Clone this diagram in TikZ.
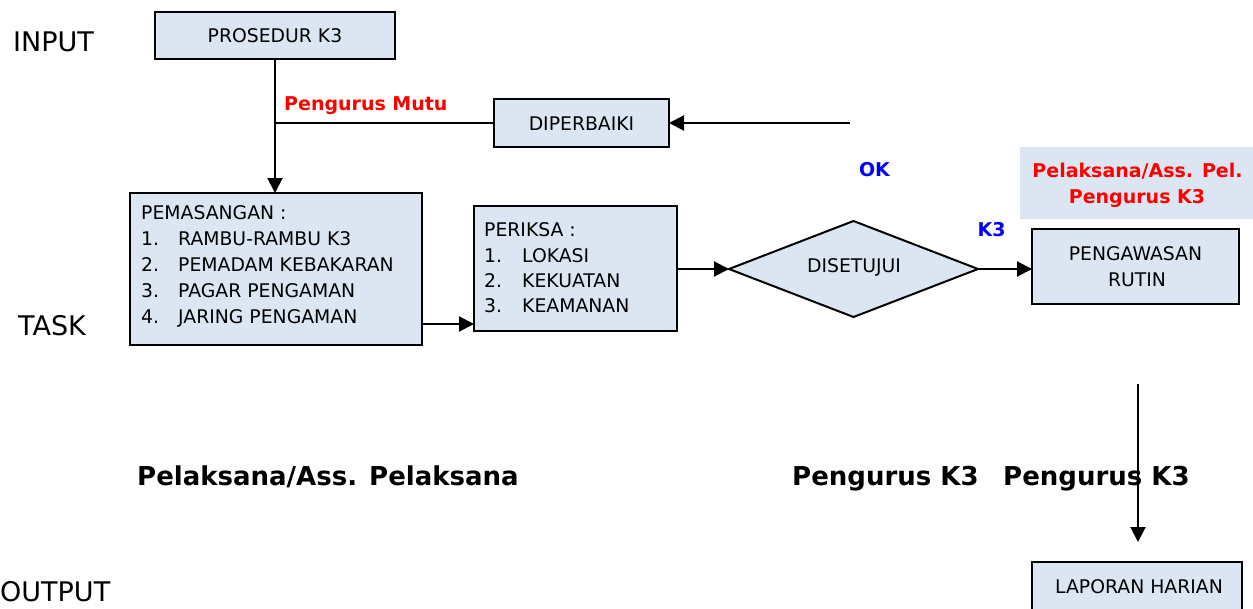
\documentclass[tikz,border=0pt]{standalone}
\usepackage{fontspec}
\setmainfont{DejaVu Sans}
\usetikzlibrary{arrows.meta,shapes.geometric}
\definecolor{boxfill}{RGB}{220,230,242}
\begin{document}
\begin{tikzpicture}[x=1pt,y=-1pt,
  box/.style={draw=black, line width=2pt, fill=boxfill, inner sep=0pt, outer sep=0pt},
  t/.style={inner sep=0pt, anchor=base west, font=\fontsize{18.8}{22}\selectfont},
  tc/.style={t, anchor=base},
  lab/.style={inner sep=0pt, anchor=base west, font=\fontsize{27}{32}\selectfont},
  redb/.style={inner sep=0pt, anchor=base, text=red, font=\fontsize{19}{23}\selectfont\bfseries},
  blueb/.style={inner sep=0pt, anchor=base, text=blue, font=\fontsize{19}{23}\selectfont\bfseries},
  big/.style={inner sep=0pt, anchor=base west, font=\fontsize{26}{31}\selectfont\bfseries},
  ln/.style={line width=2pt},
  arr/.style={line width=2pt, -{Triangle[length=15pt,width=15pt]}}]
\useasboundingbox (0,0) rectangle (1253,608);
\fill[white] (0,0) rectangle (1253,608);

% side labels
\node[lab] (input) at (13,51) {INPUT};
\node[lab] (task) at (18,335) {TASK};
\node[lab] (output) at (0,601) {OUTPUT};

% boxes
\node[box, minimum width=240pt, minimum height=47pt] (pros) at (275,35.5) {};
\node[tc] (prost) at (275,42) {PROSEDUR K3};

\node[box, minimum width=175pt, minimum height=48pt] (dip) at (581.5,123) {};
\node[tc] (dipt) at (581.5,130) {DIPERBAIKI};

\node[box, minimum width=292pt, minimum height=152pt] (pem) at (276,269) {};
\node[t] (pem0) at (141,219) {PEMASANGAN :};
\node[t] (pem1n) at (141,245.5) {1.};
\node[t] (pem1) at (178,245.5) {RAMBU-RAMBU K3};
\node[t] (pem2n) at (141,271.5) {2.};
\node[t] (pem2) at (178,271.5) {PEMADAM KEBAKARAN};
\node[t] (pem3n) at (141,297) {3.};
\node[t] (pem3) at (178,297) {PAGAR PENGAMAN};
\node[t] (pem4n) at (141,323) {4.};
\node[t] (pem4) at (178,323) {JARING PENGAMAN};

\node[box, minimum width=203pt, minimum height=125pt] (per) at (575.5,268.5) {};
\node[t] (per0) at (484,236) {PERIKSA :};
\node[t] (per1n) at (484,262) {1.};
\node[t] (per1) at (522,262) {LOKASI};
\node[t] (per2n) at (484,287) {2.};
\node[t] (per2) at (522,287) {KEKUATAN};
\node[t] (per3n) at (484,312) {3.};
\node[t] (per3) at (522,312) {KEAMANAN};

\node[box, diamond, minimum width=249pt, minimum height=96pt] (dis) at (853.5,269) {};
\node[tc] (dist) at (854,272) {DISETUJUI};

\node[fill=boxfill, inner sep=0pt, minimum width=233pt, minimum height=72pt] (redbg) at (1136.5,183) {};
\node[redb] (red1) at (1137.5,177) {Pelaksana/Ass. Pel.};
\node[redb] (red2) at (1137,203) {Pengurus K3};

\node[box, minimum width=207pt, minimum height=75pt] (peng) at (1135.5,266.5) {};
\node[tc] (peng1) at (1135.5,260) {PENGAWASAN};
\node[tc] (peng2) at (1137,286) {RUTIN};

\node[box, minimum width=210pt, minimum height=54pt] (lap) at (1137,589) {};
\node[tc] (lapt) at (1139,593) {LAPORAN HARIAN};

% labels
\node[redb, anchor=base west] (mutu) at (284,110) {Pengurus Mutu};
\node[blueb] (ok) at (874.5,176) {OK};
\node[blueb] (k3) at (991.5,236) {K3};
\node[big] (pel) at (137,485) {Pelaksana/Ass. Pelaksana};
\node[big] (pk1) at (792,485) {Pengurus K3};
\node[big] (pk2) at (1003,485) {Pengurus K3};

% connectors
\coordinate (okstart) at (850,123);
\coordinate (vstart) at (1138,384);
\coordinate (vend) at (1138,542);
\coordinate (pemout) at (422,324);

\draw[arr] (pros.south) -- (pros.south |- pem.north);
\draw[ln] (dip.west) -- (dip.west -| pros.south);
\draw[arr] (okstart) -- (dip.east);
\draw[arr] (pemout) -- (pemout -| per.west);
\draw[arr] (per.east |- dis.west) -- (dis.west);
\draw[arr] (dis.east) -- (dis.east -| peng.west);
\draw[arr] (vstart) -- (vend);
\end{tikzpicture}
\end{document}
